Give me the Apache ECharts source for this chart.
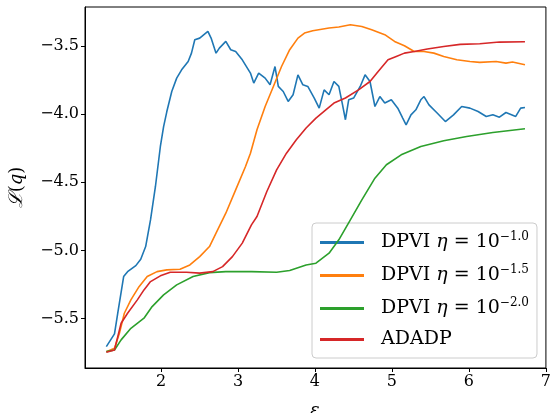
<!DOCTYPE html>
<html>
<head>
<meta charset="utf-8">
<script src="https://cdn.jsdelivr.net/npm/echarts@6/dist/echarts.min.js"></script>
<style>
  html, body { margin: 0; padding: 0; background: #fff; }
  #chart { width: 554px; height: 413px; }
</style>
</head>
<body>
<div id="chart"></div>
<script>
// values (x = epsilon, y = L(q))
var blueX = [1.290,1.396,1.438,1.515,1.566,1.673,1.737,1.801,1.864,1.928,1.992,2.034,2.076,2.140,2.204,2.268,2.353,2.396,2.439,2.503,2.609,2.651,2.715,2.758,2.842,2.906,2.970,3.056,3.162,3.205,3.269,3.353,3.417,3.481,3.524,3.588,3.652,3.716,3.779,3.843,3.907,3.991,4.055,4.119,4.183,4.247,4.310,4.354,4.396,4.438,4.502,4.588,4.651,4.715,4.779,4.843,4.907,4.992,5.076,5.140,5.184,5.247,5.311,5.375,5.417,5.481,5.587,5.694,5.800,5.906,6.013,6.119,6.225,6.311,6.396,6.481,6.608,6.672,6.728];
var blueY = [-5.704,-5.611,-5.460,-5.191,-5.155,-5.111,-5.064,-4.971,-4.776,-4.531,-4.238,-4.092,-3.982,-3.835,-3.737,-3.676,-3.615,-3.554,-3.456,-3.444,-3.395,-3.444,-3.554,-3.517,-3.468,-3.529,-3.542,-3.603,-3.700,-3.773,-3.700,-3.737,-3.786,-3.652,-3.798,-3.835,-3.908,-3.859,-3.713,-3.786,-3.798,-3.883,-3.957,-3.823,-3.859,-3.762,-3.798,-3.920,-4.042,-3.896,-3.883,-3.798,-3.713,-3.762,-3.945,-3.872,-3.920,-3.896,-3.957,-4.030,-4.079,-4.006,-3.969,-3.896,-3.872,-3.933,-3.993,-4.055,-4.006,-3.945,-3.957,-3.982,-4.018,-4.006,-4.023,-3.989,-4.018,-3.957,-3.952];

var orangeX = [1.290,1.396,1.460,1.524,1.609,1.715,1.821,1.949,2.076,2.247,2.375,2.503,2.630,2.715,2.842,2.970,3.098,3.162,3.247,3.353,3.460,3.566,3.672,3.779,3.864,3.971,4.183,4.310,4.460,4.609,4.737,4.907,5.034,5.162,5.290,5.417,5.545,5.673,5.843,6.013,6.141,6.353,6.481,6.566,6.728];
var orangeY = [-5.741,-5.716,-5.606,-5.460,-5.362,-5.265,-5.191,-5.155,-5.142,-5.137,-5.106,-5.045,-4.971,-4.873,-4.727,-4.556,-4.385,-4.287,-4.116,-3.945,-3.798,-3.652,-3.529,-3.444,-3.407,-3.390,-3.370,-3.363,-3.346,-3.359,-3.383,-3.419,-3.468,-3.500,-3.542,-3.542,-3.554,-3.578,-3.603,-3.615,-3.622,-3.615,-3.627,-3.619,-3.639];

var greenX = [1.290,1.396,1.482,1.609,1.779,1.885,2.034,2.204,2.417,2.630,2.842,3.175,3.502,3.672,3.885,4.013,4.183,4.310,4.460,4.609,4.779,4.928,5.120,5.375,5.673,5.970,6.311,6.728];
var greenY = [-5.741,-5.729,-5.655,-5.570,-5.496,-5.411,-5.325,-5.252,-5.191,-5.162,-5.155,-5.155,-5.159,-5.147,-5.106,-5.093,-5.020,-4.922,-4.776,-4.629,-4.470,-4.372,-4.299,-4.238,-4.196,-4.165,-4.136,-4.108];

var redX = [1.290,1.396,1.482,1.566,1.693,1.779,1.864,1.992,2.120,2.332,2.503,2.673,2.800,2.928,3.056,3.175,3.247,3.375,3.502,3.630,3.758,3.885,4.013,4.141,4.247,4.396,4.566,4.715,4.821,4.949,5.056,5.162,5.290,5.460,5.673,5.886,6.141,6.396,6.728];
var redY = [-5.745,-5.729,-5.533,-5.460,-5.362,-5.289,-5.228,-5.186,-5.159,-5.159,-5.166,-5.155,-5.118,-5.045,-4.946,-4.812,-4.751,-4.568,-4.409,-4.287,-4.189,-4.103,-4.030,-3.969,-3.920,-3.883,-3.823,-3.762,-3.688,-3.603,-3.578,-3.554,-3.542,-3.524,-3.505,-3.490,-3.485,-3.473,-3.471];

var xTicks = [2, 3, 4, 5, 6, 7];
var yTicks = [-5.5, -5.0, -4.5, -4.0, -3.5];
var names = ['DPVI η = 10^−1.0', 'DPVI η = 10^−1.5', 'DPVI η = 10^−2.0', 'ADADP'];
var colors = ['#1f77b4', '#ff7f0e', '#2ca02c', '#d62728'];

function pairs(xs, ys) {
  var out = [];
  for (var i = 0; i < xs.length; i++) out.push([xs[i], ys[i]]);
  return out;
}

var serif = 'DejaVu Serif';
var myChart = echarts.init(document.getElementById('chart'), null, { renderer: 'canvas' });

var allX = [blueX, orangeX, greenX, redX];
var allY = [blueY, orangeY, greenY, redY];
var series = [];
for (var k = 0; k < 4; k++) {
  series.push({
    name: names[k],
    type: 'line',
    data: pairs(allX[k], allY[k]),
    showSymbol: false,
    symbol: 'none',
    lineStyle: { color: colors[k], width: 1.6 },
    itemStyle: { color: colors[k] },
    z: 2 + k
  });
}

option = {
  animation: false,
  backgroundColor: '#fff',
  grid: { left: 85, right: 1, top: 7, bottom: 45, show: true, borderColor: '#000', borderWidth: 1 },
  xAxis: {
    type: 'value',
    min: 1.013, max: 7.0,
    axisLine: { lineStyle: { color: '#000', width: 1 } },
    axisTick: { show: true, inside: false, length: 4, customValues: xTicks, lineStyle: { color: '#000' } },
    axisLabel: { customValues: xTicks, fontFamily: serif, fontSize: 16, color: '#000', margin: 6 },
    splitLine: { show: false }
  },
  yAxis: {
    type: 'value',
    min: -5.861, max: -3.216,
    name: '{l|ℒ}{p|(}{q|q}{p|)}',
    nameLocation: 'middle',
    nameRotate: 90,
    nameGap: 58,
    nameTextStyle: {
      color: '#000',
      rich: {
        l: { fontFamily: serif, fontSize: 19, fontStyle: 'italic', color: '#000' },
        p: { fontFamily: serif, fontSize: 18, color: '#000' },
        q: { fontFamily: serif, fontSize: 18, fontStyle: 'italic', color: '#000' }
      }
    },
    axisLine: { show: true, lineStyle: { color: '#000', width: 1 } },
    axisTick: { show: true, inside: false, length: 4, customValues: yTicks, lineStyle: { color: '#000' } },
    axisLabel: {
      customValues: yTicks,
      fontFamily: serif, fontSize: 16, color: '#000', margin: 6,
      formatter: function (v) { return (v < 0 ? '\u2212' : '') + Math.abs(v).toFixed(1); }
    },
    splitLine: { show: false }
  },
  // x axis title sits partly below the picture edge, as in the original
  graphic: [{
    type: 'text',
    left: 310,
    top: 402,
    style: { text: 'ε', fontFamily: serif, fontSize: 18, fontStyle: 'italic', fill: '#000' }
  }],
  legend: {
    orient: 'vertical',
    left: 312,
    top: 223,
    padding: [8, 8, 9, 8],
    itemGap: 12,
    itemWidth: 44,
    itemHeight: 3,
    icon: 'rect',
    backgroundColor: 'rgba(255,255,255,0.8)',
    borderColor: '#cccccc',
    borderWidth: 1,
    borderRadius: 4,
    data: names,
    formatter: function (name) {
      var parts = name.split('^');
      if (parts.length < 2) return '{g|}{a|' + name + '}';
      return '{g|}{a|DPVI }{i|η}{a| = 10}{s|' + parts[1] + '}';
    },
    textStyle: {
      color: '#000',
      rich: {
        g: { width: 12, lineHeight: 23 },
        a: { fontFamily: serif, fontSize: 19, color: '#000', lineHeight: 23 },
        i: { fontFamily: serif, fontSize: 19, fontStyle: 'italic', color: '#000', lineHeight: 23 },
        s: { fontFamily: serif, fontSize: 12, color: '#000', verticalAlign: 'top', lineHeight: 23 }
      }
    }
  },
  series: series
};

myChart.setOption(option);
</script>
</body>
</html>
